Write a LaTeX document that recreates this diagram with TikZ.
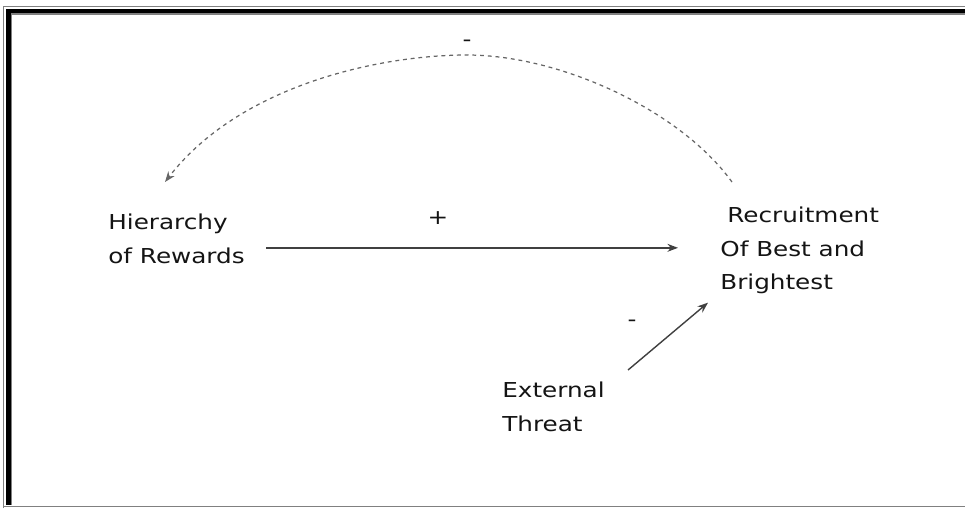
\documentclass[tikz,border=0pt]{standalone}
\usepackage{fontspec}
\newfontfamily\diagfont[FakeStretch=1.2]{DejaVu Sans}
\usetikzlibrary{arrows.meta}

\begin{document}
\begin{tikzpicture}[x=0.02cm, y=-0.02cm,
  lbl/.style={inner sep=0pt, align=left, anchor=north west, text=black!92,
    font=\diagfont\fontsize{11.7}{18.8}\selectfont},
  sgn/.style={inner sep=0pt, text=black!92, font=\diagfont\fontsize{11.7}{14}\selectfont},
  arr/.style={-{Stealth[length=6pt,width=4.5pt]}, line width=0.8pt, black!75},
  fb/.style={arr, line width=0.7pt, dash pattern=on 2.2pt off 2.2pt, black!60}]
  \useasboundingbox (0,0) rectangle (965,508);

  % frame
  \fill[black] (6,9) rectangle (965,13.3);
  \fill[black] (6,9) rectangle (11,505);
  \draw[gray, line width=0.7pt] (3.5,508) -- (3.5,6.5) -- (965,6.5);
  \draw[gray, line width=0.7pt] (11.8,505) -- (11.8,14) -- (965,14);
  \draw[gray, line width=1pt] (3.5,506.5) -- (965,506.5);

  \node[lbl] (hier) at (108,214) {Hierarchy\\of Rewards};
  \node[lbl] (recr) at (720,207) {\hspace*{4pt}Recruitment\\Of Best and\\Brightest};
  \node[lbl] (ext) at (502,382) {External\\Threat};

  \node[sgn] (plus) at (438,218) {+};
  \node[sgn] (mtop) at (467,43) {-};
  \node[sgn] (mthr) at (632,323) {-};

  \draw[arr] ([shift={(21,9)}]hier.east) -- ([shift={(-42,9)}]hier.east -| recr.west);
  \draw[arr] ([shift={(23,-12)}]ext.north east) -- ([shift={(-12,9)}]recr.south west);

  % loop back
  \draw[fb] ([shift={(12,-25)}]recr.north west) .. controls (680,110) and (560,55) .. (467,55)
    .. controls (380,55) and (240,85) .. ([shift={(57,-32)}]hier.north west);
\end{tikzpicture}
\end{document}
